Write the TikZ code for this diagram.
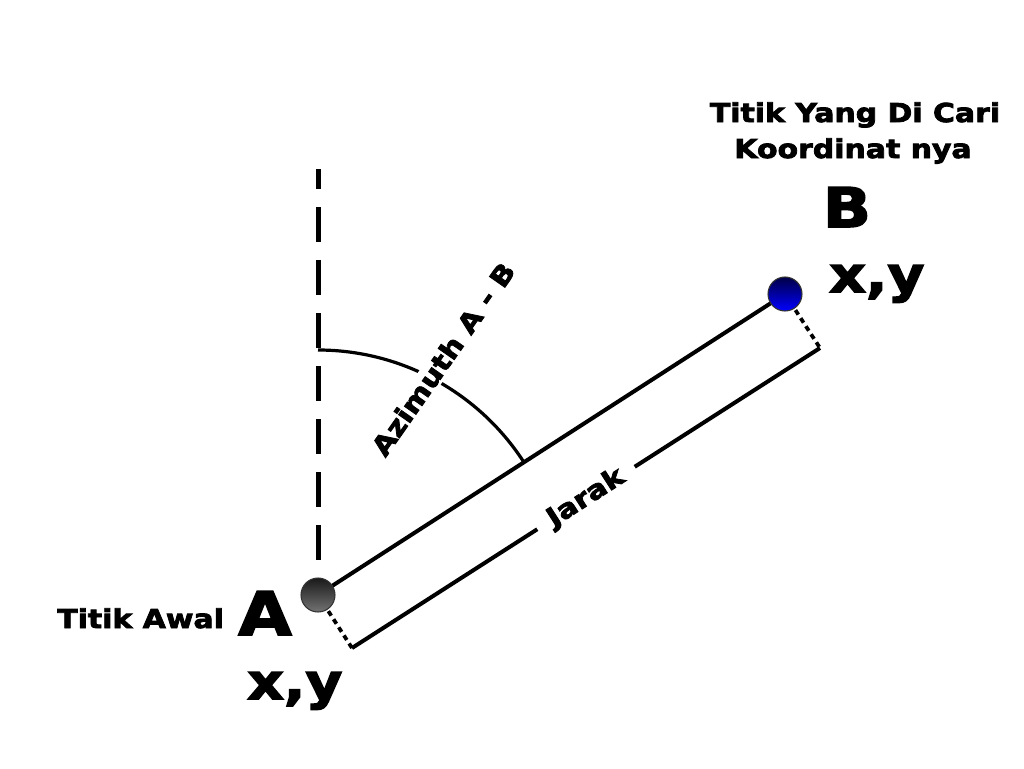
\documentclass[tikz,border=0pt]{standalone}
\usepackage{fontspec}
\newfontfamily\blk{DejaVu Sans Bold}[FakeStretch=1.15,FakeBold=3]
\begin{document}
\begin{tikzpicture}[x=0.75pt,y=0.75pt,
  lbl/.style={font=\blk\fontsize{19.5}{23}\selectfont,inner sep=0pt},
  big/.style={font=\blk\fontsize{37}{40}\selectfont,inner sep=0pt},
  mainline/.style={line width=3pt},
  dimline/.style={line width=3pt},
  dotline/.style={line width=2.8pt,dash pattern=on 4pt off 3.2pt},
  dashline/.style={line width=3.75pt,dash pattern=on 26.25pt off 13.5pt,dash phase=11.25pt},
  anglearc/.style={line width=2.4pt},
  pointA/.style={circle,minimum size=25.5pt,inner sep=0pt,draw=black!80,line width=0.8pt,top color=black!90,bottom color=black!55},
  pointB/.style={circle,minimum size=25.5pt,inner sep=0pt,draw=black!80,line width=0.8pt,top color={rgb,255:red,0;green,0;blue,70},bottom color={rgb,255:red,0;green,0;blue,255}}]
\useasboundingbox[fill=white] (0,0) rectangle (1024,-768);
% coordinates
\coordinate (A) at (318,-595);
\coordinate (B) at (785,-294);
\coordinate (Ad) at (352,-648);
\coordinate (Bd) at (820,-348);
\coordinate (N) at (318,-169);
% north reference (dashed)
\draw[dashline] (N) -- (A);
% azimuth arc
\draw[anglearc] (318,-350) arc[start angle=90,end angle=32.72,radius=183.75pt];
\node[lbl,fill=white,inner xsep=3pt,inner ysep=2pt,rotate=55] (az) at (443,-359) {Azimuth A - B};
% main line
\draw[mainline] (A) -- (B);
% dimension line
\draw[dotline] (A) -- (Ad);
\draw[dotline] (B) -- (Bd);
\draw[dimline] (Ad) -- node[lbl,fill=white,inner xsep=11pt,inner ysep=4pt,rotate=32.72] (jarak) {Jarak} (Bd);
% points
\node[pointA] (pA) at (A) {};
\node[pointB] (pB) at (B) {};
% labels
\node[lbl,anchor=base] (t1) at (855,-122) {Titik Yang Di Cari};
\node[lbl,anchor=base] (t2) at (853,-158) {Koordinat nya};
\node[font=\blk\fontsize{41}{44}\selectfont,inner sep=0pt,anchor=base] (lB) at (847,-227) {B};
\node[big,anchor=base west] (xyB) at (829,-292) {x,y};
\node[lbl,anchor=base west] (awal) at (57,-628) {Titik Awal};
\node[font=\blk\fontsize{45}{48}\selectfont,inner sep=0pt,anchor=base] (lA) at (265,-635) {A};
\node[big,anchor=base west] (xyA) at (247,-699) {x,y};
\end{tikzpicture}
\end{document}
